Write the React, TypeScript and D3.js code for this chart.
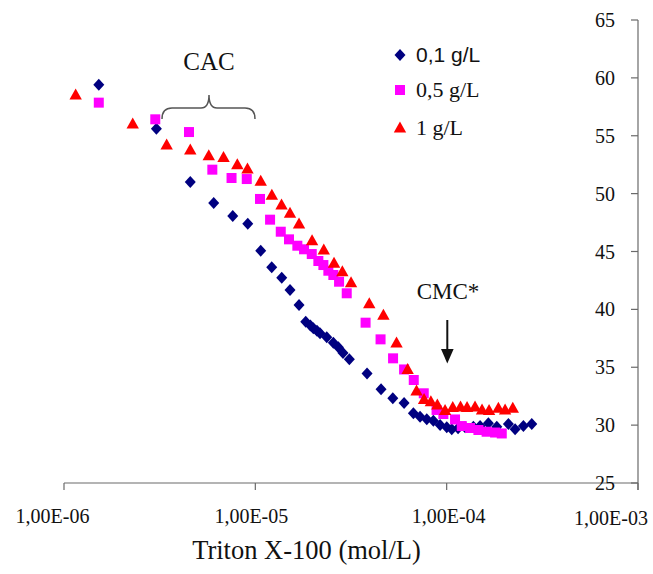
import React from "react";
import * as d3 from "d3";

// ---- data ----
const series1X = [1.52e-6, 3.04e-6, 4.57e-6, 6.06e-6, 7.62e-6, 9.13e-6, 1.067e-5, 1.218e-5, 1.374e-5, 1.518e-5, 1.692e-5, 1.834e-5, 1.94e-5, 2.01e-5, 2.1e-5, 2.178e-5, 2.362e-5, 2.557e-5, 2.716e-5, 2.873e-5, 3.1e-5, 3.836e-5, 4.54e-5, 5.23e-5, 5.99e-5, 6.7e-5, 7.26e-5, 7.87e-5, 8.52e-5, 9.24e-5, 1.001e-4, 1.063e-4, 1.147e-4, 1.248e-4, 1.379e-4, 1.495e-4, 1.652e-4, 1.828e-4, 2.102e-4, 2.279e-4, 2.518e-4, 2.785e-4];
const series1Y = [59.4, 55.6, 51.0, 49.2, 48.07, 47.4, 45.07, 43.63, 42.74, 41.67, 40.38, 38.94, 38.6, 38.37, 38.15, 37.93, 37.59, 37.12, 36.72, 36.23, 35.69, 34.46, 33.1, 32.32, 31.91, 31.02, 30.73, 30.5, 30.38, 30.01, 29.81, 29.64, 29.73, 29.81, 29.86, 29.92, 30.16, 29.86, 30.1, 29.64, 29.92, 30.1];

const series2X = [1.52e-6, 3.0e-6, 4.5e-6, 5.96e-6, 7.51e-6, 9.02e-6, 1.058e-5, 1.194e-5, 1.358e-5, 1.5e-5, 1.658e-5, 1.797e-5, 1.972e-5, 2.135e-5, 2.268e-5, 2.408e-5, 2.557e-5, 2.739e-5, 3.004e-5, 3.769e-5, 4.513e-5, 5.246e-5, 5.99e-5, 6.73e-5, 7.59e-5, 8.855e-5, 9.61e-5, 1.106e-4, 1.199e-4, 1.326e-4, 1.465e-4, 1.617e-4, 1.791e-4, 1.941e-4];
const series2Y = [57.86, 56.42, 55.32, 52.07, 51.35, 51.26, 49.54, 47.75, 46.71, 46.05, 45.5, 45.19, 44.78, 44.18, 43.83, 43.34, 42.97, 42.39, 41.39, 38.85, 37.41, 35.77, 34.81, 33.9, 32.75, 31.31, 30.96, 30.49, 29.92, 29.75, 29.58, 29.43, 29.36, 29.28];

const series3X = [1.151e-6, 2.286e-6, 3.44e-6, 4.57e-6, 5.71e-6, 6.82e-6, 8.05e-6, 9.1e-6, 1.067e-5, 1.22e-5, 1.371e-5, 1.518e-5, 1.692e-5, 1.979e-5, 2.279e-5, 2.578e-5, 2.85e-5, 3.164e-5, 3.94e-5, 4.67e-5, 5.47e-5, 6.25e-5, 6.96e-5, 7.62e-5, 8.27e-5, 8.94e-5, 9.81e-5, 1.076e-4, 1.182e-4, 1.278e-4, 1.407e-4, 1.531e-4, 1.666e-4, 1.863e-4, 2.02e-4, 2.216e-4];
const series3Y = [58.52, 56.02, 54.2, 53.77, 53.28, 53.12, 52.5, 52.13, 51.06, 49.86, 49.02, 48.3, 47.38, 45.93, 45.13, 43.98, 43.26, 42.3, 40.49, 39.49, 37.1, 34.81, 32.95, 32.21, 32.02, 31.74, 31.26, 31.52, 31.57, 31.52, 31.57, 31.31, 31.26, 31.45, 31.31, 31.45];

const seriesNames = ["0,1 g/L", "0,5 g/L", "1 g/L"];
const xTickValues = [1e-6, 1e-5, 1e-4, 1e-3];
const xTickLabels = ["1,00E-06", "1,00E-05", "1,00E-04", "1,00E-03"];
const yTickValues = [25, 30, 35, 40, 45, 50, 55, 60, 65];
const xTitle = "Triton X-100 (mol/L)";

// ---- styles ----
const W = 653, H = 574;
const SERIF = "'Liberation Serif', 'Times New Roman', serif";
const SANS = "'Liberation Sans', Arial, sans-serif";
const AXIS = "#6a6a6a";
const COLORS = ["#000080", "#ff00ff", "#ff0000"];
const xLabelDx = [-11.5, -4, 2, -27];
const xLabelDy = [0, 0, 0, 2];

const diamond = "M0,-6L5.5,0L0,6L-5.5,0Z";
const square = "M-5,-5H5V5H-5Z";
const triangle = "M0,-6.5L6.2,4.5H-6.2Z";
const shapes = [diamond, square, triangle];

export default function App() {
  const x = d3.scaleLog().domain([1e-6, 1e-3]).range([64, 638]);
  const y = d3.scaleLinear().domain([25, 65]).range([483, 20]);

  const all = [
    d3.zip(series1X, series1Y),
    d3.zip(series2X, series2Y),
    d3.zip(series3X, series3Y),
  ];

  const legendY = [55, 90, 128];
  const legendFonts = [SANS, SERIF, SERIF];
  const legendSize = [21, 22, 22];

  return (
    <svg width={W} height={H} style={{ position: "absolute", left: 0, top: 0, background: "#fff" }}>
      {/* x axis */}
      <line x1={x(1e-6)} x2={x(1e-3)} y1={y(25)} y2={y(25)} stroke={AXIS} strokeWidth={1.2} />
      {xTickValues.map((v, i) => (
        <g key={"xt" + i}>
          <line x1={x(v)} x2={x(v)} y1={y(25)} y2={y(25) + 7} stroke={AXIS} strokeWidth={1.2} />
          <text x={x(v) + xLabelDx[i]} y={523 + xLabelDy[i]} textAnchor="middle" fontFamily={SERIF} fontSize={20} fill="#111">
            {xTickLabels[i]}
          </text>
        </g>
      ))}
      {/* y axis */}
      <line x1={x(1e-3)} x2={x(1e-3)} y1={y(65)} y2={y(25) + 7} stroke={AXIS} strokeWidth={1.2} />
      {yTickValues.map((v, i) => (
        <g key={"yt" + i}>
          <line x1={x(1e-3) - 7} x2={x(1e-3)} y1={y(v)} y2={y(v)} stroke={AXIS} strokeWidth={1.2} />
          <text x={615} y={y(v) + 7} textAnchor="end" fontFamily={SERIF} fontSize={20} fill="#111">
            {v}
          </text>
        </g>
      ))}
      <text x={306.5} y={559} textAnchor="middle" fontFamily={SERIF} fontSize={26.5} fill="#111">
        {xTitle}
      </text>

      {/* data */}
      {all.map((pts, si) => (
        <g key={"s" + si} fill={COLORS[si]}>
          {pts.map((p, i) => (
            <path key={i} d={shapes[si]} transform={`translate(${x(p[0])},${y(p[1])})`} />
          ))}
        </g>
      ))}

      {/* annotations */}
      <text x={209} y={70} textAnchor="middle" fontFamily={SERIF} fontSize={25} fill="#111">CAC</text>
      <path d="M162,119 Q162,108 172,108 L201,108 Q209,108 209,95 Q209,108 217,108 L245,108 Q255,108 255,119"
        fill="none" stroke="#555" strokeWidth={1.5} />
      <text x={448} y={299} textAnchor="middle" fontFamily={SERIF} fontSize={23} fill="#111">CMC*</text>
      <line x1={447.3} x2={447.3} y1={320} y2={352} stroke="#111" strokeWidth={2} />
      <path d="M441,349L453.6,349L447.3,363.5Z" fill="#111" />

      {/* legend */}
      {seriesNames.map((n, i) => (
        <g key={"lg" + i}>
          <path d={shapes[i]} transform={`translate(400,${legendY[i]})`} fill={COLORS[i]} />
          <text x={416} y={legendY[i] + 7} fontFamily={legendFonts[i]} fontSize={legendSize[i]} fill="#111">
            {n}
          </text>
        </g>
      ))}
    </svg>
  );
}
